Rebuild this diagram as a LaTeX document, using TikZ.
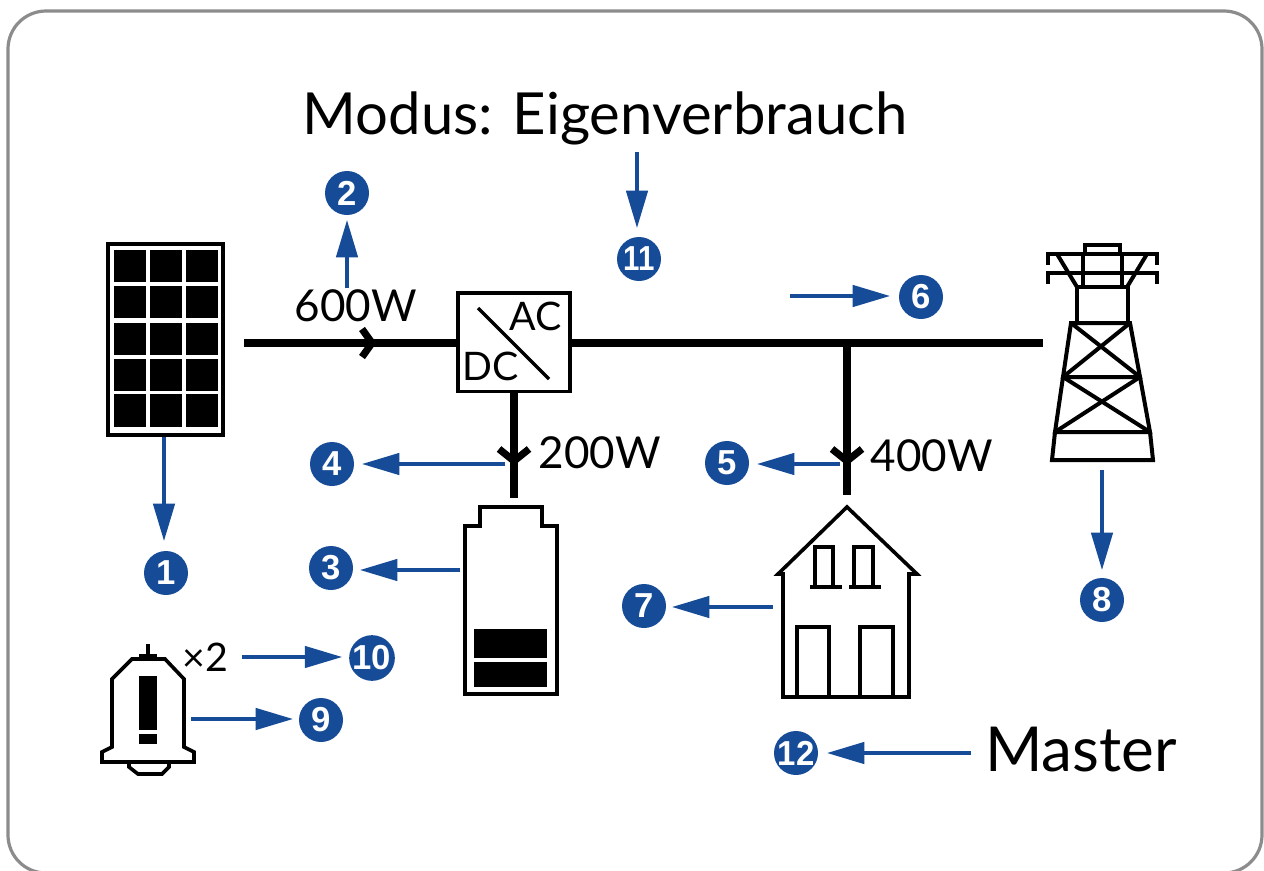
\documentclass[tikz,border=0pt]{standalone}
\usepackage{fontspec}
\setmainfont{Lato}
\newfontfamily\numfont{Liberation Sans}
\usetikzlibrary{arrows.meta}
\definecolor{nblue}{HTML}{154B97}
\definecolor{frame}{HTML}{8C8C8C}
\tikzset{
  num/.style={circle,fill=nblue,text=white,minimum size=33pt,inner sep=0pt,outer sep=0pt,font=\numfont\fontsize{26}{26}\selectfont\bfseries},
  pointer/.style={draw=nblue,line width=2.6pt,shorten >=#1*0.75pt,-{Triangle[length=28pt,width=16pt]}},
  power/.style={line width=5.8pt},
  chev/.style={line width=5.4pt,line join=miter},
  icon/.style={line width=3pt,line join=miter},
  thin icon/.style={line width=2.7pt,line join=miter},
  big/.style={font=\fontsize{43.5}{43.5}\selectfont},
  mid/.style={font=\fontsize{29.5}{29.5}\selectfont},
  watt/.style={font=\fontsize{33}{33}\selectfont}
}
\begin{document}
\begin{tikzpicture}[x=0.75pt,y=-0.75pt]
\useasboundingbox (0,0) rectangle (1264,871);
\fill[white] (0,0) rectangle (1264,871);
\begin{scope}
\clip (0,0) rectangle (1264,871);
\draw[frame,line width=2.4pt,rounded corners=28.5pt] (8,11) rectangle (1262,873);
\end{scope}
% panel
\node[draw,line width=3pt,inner sep=0pt,outer sep=0pt,minimum width=86.5pt,minimum height=143pt,anchor=north west] (panel) at (108,244) {};
\foreach \x in {114,150,186} \foreach \y/\h in {250/32,286/32,323/32,359/32,394/33}
  \fill (\x,\y) rectangle ++(32,\h);
% inverter
\node[draw,line width=2.6pt,inner sep=0pt,outer sep=0pt,minimum width=84pt,minimum height=74pt,anchor=north west] (inv) at (458,293) {};
\coordinate (d1) at (478,308); \coordinate (d2) at (549,379);
\draw[line width=2.4pt] (d1) -- (d2);
\node[mid] (ac) at (536,316) {AC};
\node[mid] (dc) at (491,366) {DC};
% power lines
\coordinate (pvstart) at (244,343);
\coordinate (gridend) at (1043,343);
\coordinate (junction) at (847,343);
\coordinate (houseend) at (847,495);
\coordinate (batend) at (514,498);
\coordinate (invdown) at (514,393);
\draw[power] (pvstart) -- (pvstart -| inv.west);
\draw[power] (inv.east |- gridend) -- (gridend);
\draw[power] (junction) -- (houseend);
\draw[power] (invdown) -- (batend);
\draw[chev] (362,329) -- (372,343) -- (362,357);
\draw[chev] (499,449) -- (514,461) -- (529,449);
\draw[chev] (832,449) -- (847,461) -- (862,449);
\node[watt] (w600) at (356,306) {600W};
\node[watt] (w200) at (600,453) {200W};
\node[watt] (w400) at (932,456) {400W};
% tower
\begin{scope}[icon]
\draw (1048,265) -- (1048,254) -- (1157,254) -- (1157,265);
\draw (1048,284) -- (1048,273) -- (1157,273) -- (1157,284);
\draw (1085,254) -- (1085,245) -- (1120,245) -- (1120,254);
\draw (1083,254) -- (1083,287);
\draw (1122,254) -- (1122,287);
\draw (1057,254) -- (1077,287);
\draw (1147,254) -- (1127,287);
\draw (1077,323) -- (1077,287) -- (1128,287) -- (1128,323);
\draw (1071,323) -- (1130,323) -- (1140,377) -- (1063,377) -- cycle;
\draw (1071,323) -- (1140,377);
\draw (1130,323) -- (1063,377);
\draw (1063,377) -- (1055,432) -- (1150,432) -- (1140,377);
\draw (1063,377) -- (1150,432);
\draw (1140,377) -- (1055,432);
\draw (1055,432) -- (1052,460) -- (1153,460) -- (1150,432);
\end{scope}
% battery
\draw[icon] (465,694) -- (465,526) -- (480,526) -- (480,507) -- (542,507) -- (542,526) -- (557,526) -- (557,694) -- cycle;
\fill (474,629) rectangle (547,658);
\fill (474,662) rectangle (547,687);
% house
\draw[thin icon] (783,697) -- (783,574) -- (778,574) -- (847,507) -- (917,574) -- (909,574) -- (909,697) -- cycle;
\draw[thin icon] (815,587) -- (815,547) -- (833,547) -- (833,587);
\draw[thin icon] (854,587) -- (854,547) -- (873,547) -- (873,587);
\draw[thin icon] (810,587) -- (842,587);
\draw[thin icon] (849,587) -- (881,587);
\draw[thin icon] (797,697) -- (797,627) -- (829,627) -- (829,697);
\draw[thin icon] (860,697) -- (860,627) -- (893,627) -- (893,697);
% bell
\draw[thin icon] (148,644) -- (148,655);
\fill (139,654) rectangle (157,659);
\draw[thin icon] (132,659) -- (165,659) -- (184,679) -- (184,747) -- (194,752) -- (194,762) -- (102,762) -- (102,752) -- (112,747) -- (112,679) -- cycle;
\draw[thin icon] (129,763) -- (129,767) -- (138,774) -- (162,774) -- (169,767) -- (169,763);
\fill (139,676) rectangle (157,730);
\fill (139,734) rectangle (157,744);
\node[mid] (times) at (205,657) {×2};
% big labels
\node[big] (modus) at (605,118) {Modus: Eigenverbrauch};
\node[font=\fontsize{46.5}{46.5}\selectfont] (master) at (1081,750) {Master};
% numbers
\node[num] (n1) at (166,573) {1};
\node[num] (n2) at (347,193) {2};
\node[num] (n3) at (331,568) {3};
\node[num] (n4) at (332,464) {4};
\node[num] (n5) at (727,463) {5};
\node[num] (n6) at (921,297) {6};
\node[num] (n7) at (644,606) {7};
\node[num] (n8) at (1102,600) {8};
\node[num] (n9) at (321,720) {9};
\node[num] (n10) at (372,658) {10};
\node[num] (n11) at (639,259) {\scalebox{.85}[1]{11}};
\node[num] (n12) at (796,753) {\scalebox{.95}[1]{12}};
% pointers
\coordinate (a1) at (164,437);
\coordinate (a2) at (347,288);
\coordinate (a3) at (460,570);
\coordinate (a4) at (505,464);
\coordinate (a5) at (840,464);
\coordinate (a6) at (790,296);
\coordinate (a7) at (773,607);
\coordinate (a8) at (1102,470);
\coordinate (a9) at (191,719);
\coordinate (a10) at (242,657);
\coordinate (a11) at (637,152);
\coordinate (a12) at (971,753);
\draw[pointer=10] (a1) -- (a1 |- n1.north);
\draw[pointer=5] (a2) -- (a2 |- n2.south);
\draw[pointer=7] (a3) -- (a3 -| n3.east);
\draw[pointer=8] (a4) -- (a4 -| n4.east);
\draw[pointer=8] (a5) -- (a5 -| n5.east);
\draw[pointer=9] (a6) -- (a6 -| n6.west);
\draw[pointer=6] (a7) -- (a7 -| n7.east);
\draw[pointer=8] (a8) -- (a8 |- n8.north);
\draw[pointer=6] (a9) -- (a9 -| n9.west);
\draw[pointer=7] (a10) -- (a10 -| n10.west);
\draw[pointer=9] (a11) -- (a11 |- n11.north);
\draw[pointer=9] (a12) -- (a12 -| n12.east);
\end{tikzpicture}
\end{document}
